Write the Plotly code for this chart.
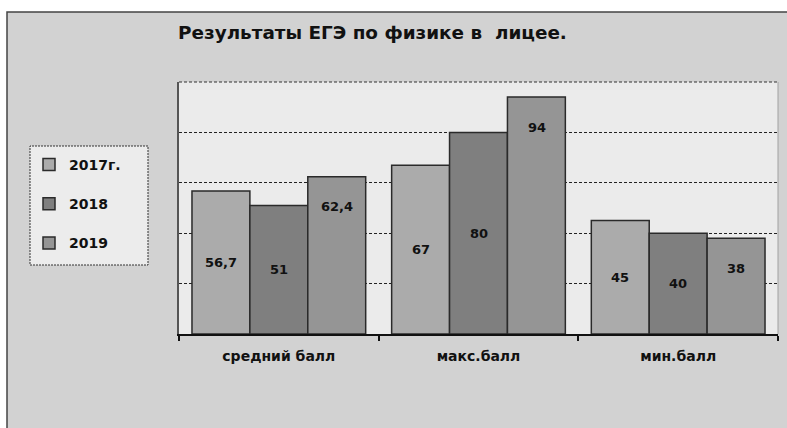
import plotly.graph_objects as go

categories = ["средний балл", "макс.балл", "мин.балл"]
series_names = ["2017г.", "2018", "2019"]
values_2017 = [56.7, 67, 45]
values_2018 = [51, 80, 40]
values_2019 = [62.4, 94, 38]
title_text = "Результаты ЕГЭ по физике в\u00a0\u00a0лицее."

colors = ["#ababab", "#7f7f7f", "#959595"]
FONT = "DejaVu Sans"

W, H = 787, 428
# plot area in screen coords: x 179..778, y 82..334
L, R, T, B = 179, W - 778, 82, H - 334
pw, ph = W - L - R, H - T - B


def px(x):
    """screen x -> paper x"""
    return (x - L) / pw


def py(y):
    """screen y -> paper y"""
    return (H - B - y) / ph


fig = go.Figure()
all_vals = [values_2017, values_2018, values_2019]
for name, vals, col in zip(series_names, all_vals, colors):
    fig.add_trace(go.Bar(
        x=categories, y=vals, name=f"<b>{name}</b>", legendgroup=name,
        marker=dict(color=col, line=dict(color="#2a2a2a", width=1.5)),
        hoverinfo="skip",
    ))

fmt = lambda v: (f"{v:g}").replace(".", ",")
annotations = []
# 2017 & 2018 labels centred in bars, 2019 labels near bar tops
for i, (vals, xs) in enumerate(zip(all_vals, [-1, 0, 1])):
    for j, v in enumerate(vals):
        if i < 2:
            yv, ys = v / 2, 0
        else:
            yv, ys = v, -30
        annotations.append(dict(
            x=j, xref="x", y=yv, yref="y", yshift=ys,
            xshift=xs * 58,
            text=f"<b>{fmt(v)}</b>", showarrow=False,
            font=dict(family=FONT, size=13, color="#111"),
        ))

shapes = [
    # outer chart area
    dict(type="rect", xref="paper", yref="paper", layer="below",
         x0=px(7), x1=px(800), y0=py(440), y1=py(12),
         fillcolor="#d2d2d2", line=dict(color="#444", width=1.5)),
    # plot area
    dict(type="rect", xref="paper", yref="paper", layer="below",
         x0=0, x1=1, y0=0, y1=1,
         fillcolor="#ebebeb", line=dict(width=0)),
    # right edge of plot area
    dict(type="line", xref="paper", yref="paper", layer="below",
         x0=1, x1=1, y0=0, y1=1, line=dict(color="#a0a0a0", width=1)),
    # top edge of plot area (dashed)
    dict(type="line", xref="paper", yref="paper", layer="above",
         x0=0, x1=1, y0=1, y1=1, line=dict(color="#333", width=1, dash="3px,2px")),
    # legend box
    dict(type="rect", xref="paper", yref="paper", layer="below",
         x0=px(30), x1=px(148), y0=py(265), y1=py(146),
         fillcolor="#ececec", line=dict(color="#333", width=1, dash="2px,1px")),
]

fig.update_layout(
    width=W, height=H,
    margin=dict(l=L, r=R, t=T, b=B, pad=0),
    paper_bgcolor="white",
    plot_bgcolor="rgba(0,0,0,0)",
    barmode="group", bargap=0.13, bargroupgap=0,
    separators=", ",
    font=dict(family=FONT, color="#111"),
    title=dict(text=f"<b>{title_text}</b>", x=178 / W, xanchor="left",
               xref="container", y=1 - 33 / H, yanchor="middle",
               yref="container",
               font=dict(family=FONT, size=18.4, color="#111")),
    showlegend=True,
    legend=dict(x=px(29), xanchor="left", y=py(149), yanchor="top",
                bgcolor="rgba(0,0,0,0)", borderwidth=0,
                font=dict(family=FONT, size=14, color="#111"),
                tracegroupgap=18, traceorder="grouped"),
    annotations=annotations,
    shapes=shapes,
    xaxis=dict(showline=True, linecolor="#111", linewidth=1.5,
               ticks="outside", tickson="boundaries", ticklen=5,
               tickcolor="#111", tickwidth=1.5,
               tickfont=dict(family=FONT, size=14, color="#111"),
               ticklabelstandoff=8, showgrid=False),
    yaxis=dict(range=[0, 100], dtick=20, showticklabels=False,
               showgrid=True, gridcolor="#222", gridwidth=1, griddash="3px,2px",
               showline=True, linecolor="#555", linewidth=1.5,
               zeroline=False, ticks=""),
)
fig.update_xaxes(tickprefix="<b>", ticksuffix="</b>")

fig.write_html(
    "out.html",
    config={"displayModeBar": False},
    post_script="document.body.style.margin='0';document.body.style.overflow='hidden';",
)
